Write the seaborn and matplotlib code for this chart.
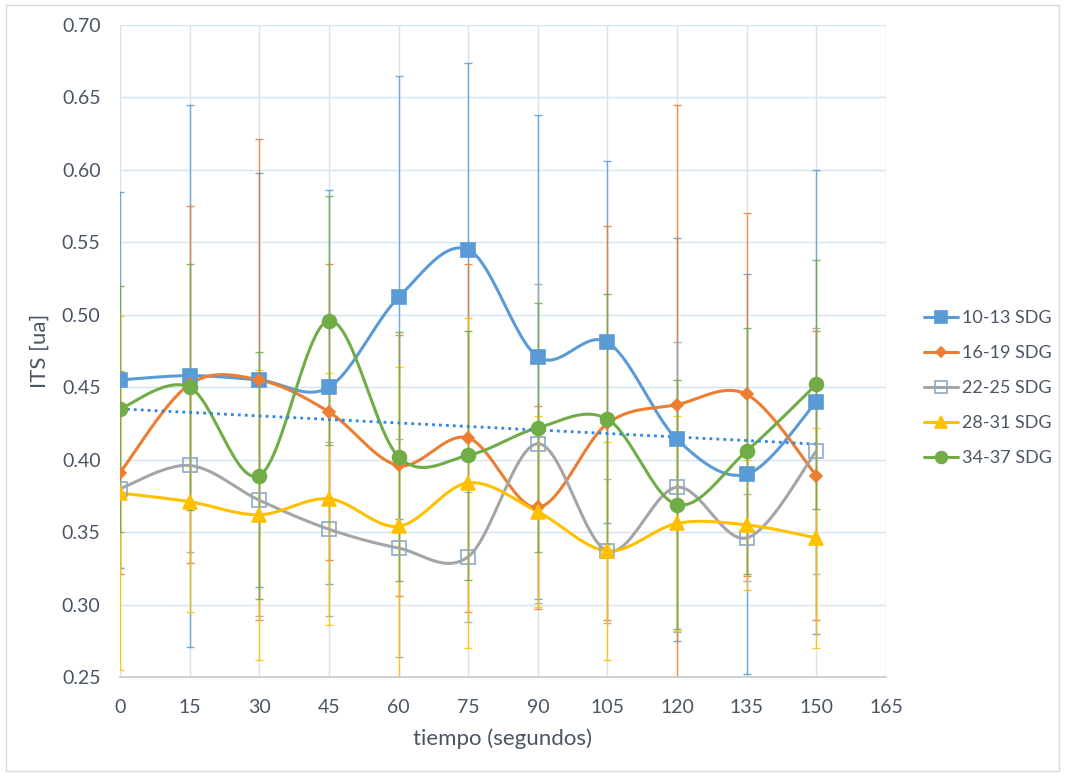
import numpy as np
import pandas as pd
import matplotlib
matplotlib.use("Agg")
import matplotlib.pyplot as plt
from matplotlib.patches import Rectangle
import seaborn as sns

# time points (seconds)
tiempo = [0, 15, 30, 45, 60, 75, 90, 105, 120, 135, 150]

series_names = ["10-13 SDG", "16-19 SDG", "22-25 SDG", "28-31 SDG", "34-37 SDG"]

its_10_13 = [0.455, 0.458, 0.455, 0.450, 0.512, 0.545, 0.471, 0.481, 0.414, 0.390, 0.440]
its_16_19 = [0.391, 0.452, 0.455, 0.433, 0.396, 0.415, 0.367, 0.425, 0.438, 0.445, 0.389]
its_22_25 = [0.380, 0.396, 0.372, 0.352, 0.339, 0.333, 0.411, 0.337, 0.381, 0.346, 0.406]
its_28_31 = [0.377, 0.371, 0.362, 0.373, 0.354, 0.384, 0.364, 0.337, 0.356, 0.355, 0.346]
its_34_37 = [0.435, 0.450, 0.389, 0.496, 0.402, 0.403, 0.422, 0.428, 0.369, 0.406, 0.452]

err_10_13 = [0.130, 0.187, 0.143, 0.136, 0.153, 0.129, 0.167, 0.125, 0.139, 0.138, 0.160]
err_16_19 = [0.070, 0.123, 0.166, 0.102, 0.090, 0.120, 0.070, 0.136, 0.207, 0.125, 0.100]
err_22_25 = [0.055, 0.060, 0.080, 0.060, 0.075, 0.045, 0.110, 0.050, 0.100, 0.030, 0.085]
err_28_31 = [0.122, 0.076, 0.100, 0.087, 0.110, 0.114, 0.066, 0.075, 0.074, 0.045, 0.076]
err_34_37 = [0.085, 0.085, 0.085, 0.086, 0.086, 0.086, 0.086, 0.086, 0.086, 0.085, 0.086]

values = [its_10_13, its_16_19, its_22_25, its_28_31, its_34_37]
errors = [err_10_13, err_16_19, err_22_25, err_28_31, err_34_37]

line_colors = ["#5B9BD5", "#ED7D31", "#A5A5A5", "#FFC000", "#70AD47"]
markers = ["s", "D", "s", "^", "o"]
marker_sizes = [10, 6, 10, 10, 10]
marker_faces = ["#5B9BD5", "#ED7D31", "none", "#FFC000", "#70AD47"]
marker_edges = ["#5B9BD5", "#ED7D31", "#8FA9C1", "#FFC000", "#70AD47"]
text_color = "#4A5563"


def smooth_curve(x, y, n=30):
    """Bezier smoothing through every point (Catmull-Rom control points)."""
    pts = np.column_stack([x, y]).astype(float)
    ext = np.vstack([pts[0], pts, pts[-1]])
    out = []
    t = np.linspace(0, 1, n)[:, None]
    for i in range(len(pts) - 1):
        p0, p1, p2, p3 = ext[i], ext[i + 1], ext[i + 2], ext[i + 3]
        c1 = p1 + (p2 - p0) / 6.0
        c2 = p2 - (p3 - p1) / 6.0
        seg = ((1 - t) ** 3) * p1 + 3 * ((1 - t) ** 2) * t * c1 + 3 * (1 - t) * t ** 2 * c2 + t ** 3 * p2
        out.append(seg if i == 0 else seg[1:])
    out = np.vstack(out)
    return out[:, 0], out[:, 1]


sns.set_theme(style="white")
plt.rcParams["font.family"] = ["Lato", "DejaVu Sans"]

fig = plt.figure(figsize=(10.65, 7.74), dpi=100)
ax = fig.add_axes([120 / 1065, 97 / 774, 766 / 1065, 652 / 774])

# long-form table for the data points
frames = []
for name, v, e in zip(series_names, values, errors):
    frames.append(pd.DataFrame({"tiempo": tiempo, "ITS": v, "err": e, "serie": name}))
df = pd.concat(frames, ignore_index=True)

for k, name in enumerate(series_names):
    sub = df[df["serie"] == name]
    col = line_colors[k]
    ax.errorbar(sub["tiempo"], sub["ITS"], yerr=sub["err"], fmt="none",
                ecolor=col, elinewidth=1.0, capsize=3, capthick=1.0,
                alpha=0.85, zorder=2)

for k, name in enumerate(series_names):
    sub = df[df["serie"] == name]
    xs, ys = smooth_curve(sub["tiempo"].values, sub["ITS"].values)
    sns.lineplot(x=xs, y=ys, ax=ax, color=line_colors[k], lw=2.2,
                 sort=False, zorder=3, legend=False)
    ax.plot(sub["tiempo"], sub["ITS"], linestyle="none", marker=markers[k],
            markersize=marker_sizes[k], markerfacecolor=marker_faces[k],
            markeredgecolor=marker_edges[k], markeredgewidth=1.2, zorder=4)

# linear trend of the 34-37 SDG series
coef = np.polyfit(tiempo, its_34_37, 1)
tx = np.array([tiempo[0], tiempo[-1]], dtype=float)
ax.plot(tx, np.polyval(coef, tx), linestyle=(0, (1, 1.5)), color="#2E86DE",
        lw=2.0, zorder=3)

# legend
handles = []
for k, name in enumerate(series_names):
    h, = ax.plot([], [], color=line_colors[k], lw=2.2, marker=markers[k],
                 markersize=marker_sizes[k] * 0.85, markerfacecolor=marker_faces[k],
                 markeredgecolor=marker_edges[k], markeredgewidth=1.2)
    handles.append(h)
fig.legend(handles, series_names, loc="center left",
           bbox_to_anchor=(0.868, 0.4987), frameon=False, fontsize=13,
           handlelength=1.85, handletextpad=0.25, labelspacing=1.05,
           borderpad=0.0, borderaxespad=0.0, labelcolor=text_color)

ax.set_xlim(0, 165)
ax.set_ylim(0.25, 0.70)
ax.set_xticks(np.arange(0, 166, 15))
ax.set_yticks(np.arange(0.25, 0.701, 0.05))
ax.yaxis.set_major_formatter(matplotlib.ticker.FormatStrFormatter("%.2f"))
ax.grid(True, color="#D6E4F0", lw=1.0, zorder=0)
ax.set_axisbelow(True)
for s in ["top", "left", "right"]:
    ax.spines[s].set_visible(False)
ax.spines["bottom"].set_color("#C8C8C8")
ax.spines["bottom"].set_linewidth(1.2)
ax.tick_params(axis="y", length=0, labelsize=14, colors=text_color, pad=14)
ax.tick_params(axis="x", length=0, labelsize=14, colors=text_color, pad=16)
ax.set_xlabel("tiempo (segundos)", fontsize=16, color=text_color, labelpad=9)
ax.set_ylabel("ITS [ua]", fontsize=16, color=text_color, labelpad=9)

# chart frame
fig.patches.append(Rectangle((0.006, 0.004), 0.988, 0.99, transform=fig.transFigure,
                             fill=False, edgecolor="#D9D9D9", lw=1.0))

fig.savefig("out.png", dpi=100)
